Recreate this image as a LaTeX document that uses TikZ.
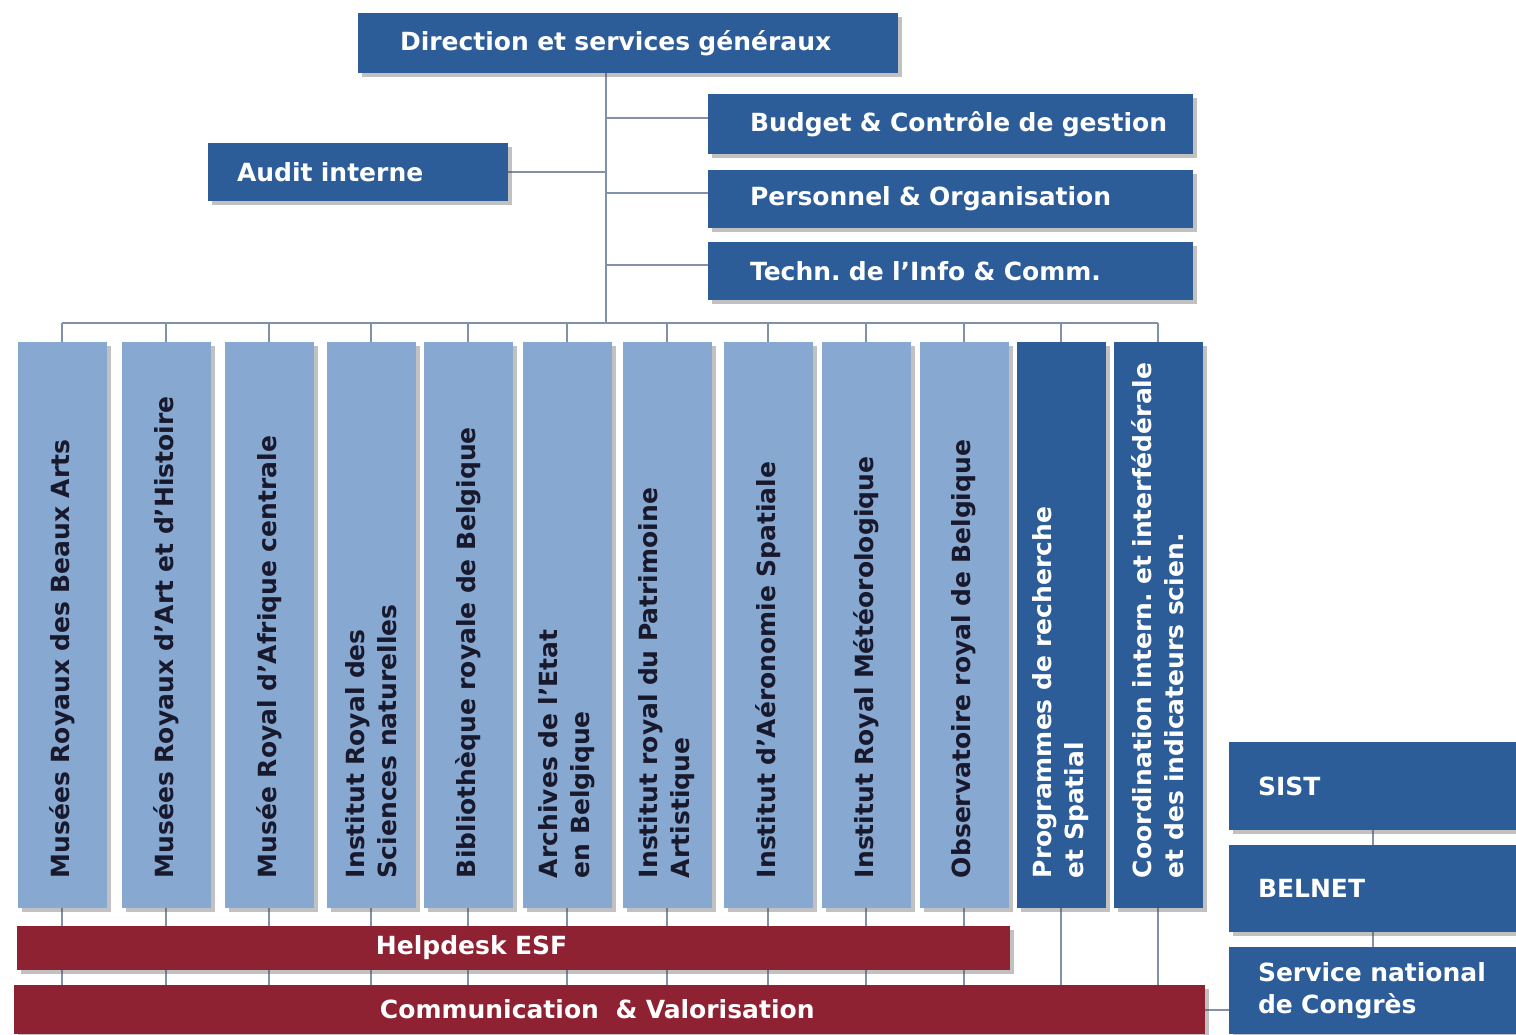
\documentclass[tikz,border=0pt]{standalone}
\usepackage{fontspec}
\setmainfont{DejaVu Sans}
\usetikzlibrary{shadows,backgrounds}
\definecolor{darkblue}{RGB}{44,93,152}
\definecolor{lightblue}{RGB}{135,168,208}
\definecolor{darkred}{RGB}{142,33,50}
\definecolor{linkgray}{RGB}{130,145,170}
\definecolor{inktext}{RGB}{25,25,45}
\tikzset{
  leftpad/.style={execute at begin node={\leftskip=#1}},
  box/.style={fill=darkblue, text=white, inner sep=0pt, align=left,
    font=\bfseries\fontsize{12.5}{16}\selectfont,
    drop shadow={shadow xshift=2pt, shadow yshift=-2pt, opacity=0.35, fill=black!70}},
  redbar/.style={box, fill=darkred},
  colbox/.style={box, fill=lightblue, text=inktext, rotate=90,
    text width=283pt, minimum height=44.5pt, leftpad=15pt},
  darkcol/.style={colbox, fill=darkblue, text=white},
  link/.style={draw=linkgray, line width=1pt}
}
\begin{document}
\begin{tikzpicture}[x=0.5pt, y=-0.5pt]
  \useasboundingbox (0,0) rectangle (1516,1034);
  \clip (0,0) rectangle (1516,1034);
  % direction and general services
  \node[box, text width=270pt, minimum height=30pt, leftpad=21pt] (dir) at (628,43) {Direction et services généraux};
  \node[box, text width=242.5pt, minimum height=30pt, leftpad=21pt] (budget) at (950.5,124) {Budget \& Contrôle de gestion};
  \node[box, text width=242.5pt, minimum height=29pt, leftpad=21pt] (perso) at (950.5,199) {Personnel \& Organisation};
  \node[box, text width=242.5pt, minimum height=29pt, leftpad=21pt] (ict) at (950.5,271) {Techn.\ de l’Info \& Comm.};
  \node[box, text width=150pt, minimum height=29pt, leftpad=14.5pt] (audit) at (358,172) {Audit interne};
  \coordinate (trunk) at (606,73);
  \coordinate (fork) at (606,323);
  % scientific institutions
  \foreach \i/\x/\txt in {1/62/{Musées Royaux des Beaux Arts},
      2/166/{Musées Royaux d’Art et d’Histoire},
      3/269/{Musée Royal d’Afrique centrale},
      4/371/{Institut Royal des\\Sciences naturelles},
      5/468/{Bibliothèque royale de Belgique},
      6/567/{Archives de l’Etat\\en Belgique},
      7/667/{Institut royal du Patrimoine\\Artistique},
      8/768/{Institut d’Aéronomie Spatiale},
      9/866/{Institut Royal Météorologique},
      10/964/{Observatoire royal de Belgique}}
    \node[colbox] (col\i) at (\x,625) {\txt};
  \node[darkcol] (col11) at (1061,625) {Programmes de recherche\\et Spatial};
  \node[darkcol] (col12) at (1158,625) {Coordination intern.\ et interfédérale\\et des indicateurs scien.};
  % transversal services
  \node[redbar, text width=496.5pt, minimum height=22pt, leftpad=179.5pt] (helpdesk) at (513.5,948) {Helpdesk ESF};
  \node[redbar, text width=595.5pt, minimum height=24.5pt, leftpad=183pt] (comm) at (609.5,1009.5) {Communication \ \& Valorisation};
  \node[box, text width=155.5pt, minimum height=44pt, leftpad=14.5pt] (sist) at (1384.5,786) {SIST};
  \node[box, text width=155.5pt, minimum height=43.5pt, leftpad=14.5pt] (belnet) at (1384.5,888.5) {BELNET};
  \node[box, text width=155.5pt, minimum height=43.5pt, leftpad=14.5pt] (congres) at (1384.5,990.5) {Service national\\de Congrès};
  \coordinate (rightlink) at (1373,830);
  \begin{pgfonlayer}{background}
    \draw[link] (trunk) -- (fork);
    \draw[link] ([yshift=3pt]budget.west) -- ([yshift=3pt]budget.west -| fork);
    \draw[link] ([yshift=3pt]perso.west) -- ([yshift=3pt]perso.west -| fork);
    \draw[link] ([yshift=3pt]ict.west) -- ([yshift=3pt]ict.west -| fork);
    \draw[link] (audit.east) -- (audit.east -| fork);
    \draw[link] (col1.center |- fork) -- (col12.center |- fork);
    \foreach \i in {1,...,12}
      \draw[link] (col\i.center |- fork) -- (col\i.center |- comm.north);
    \draw[link] (rightlink |- sist.south) -- (rightlink |- congres.north);
    \draw[link] (comm.east) -- (comm.east -| congres.west);
  \end{pgfonlayer}
\end{tikzpicture}
\end{document}
